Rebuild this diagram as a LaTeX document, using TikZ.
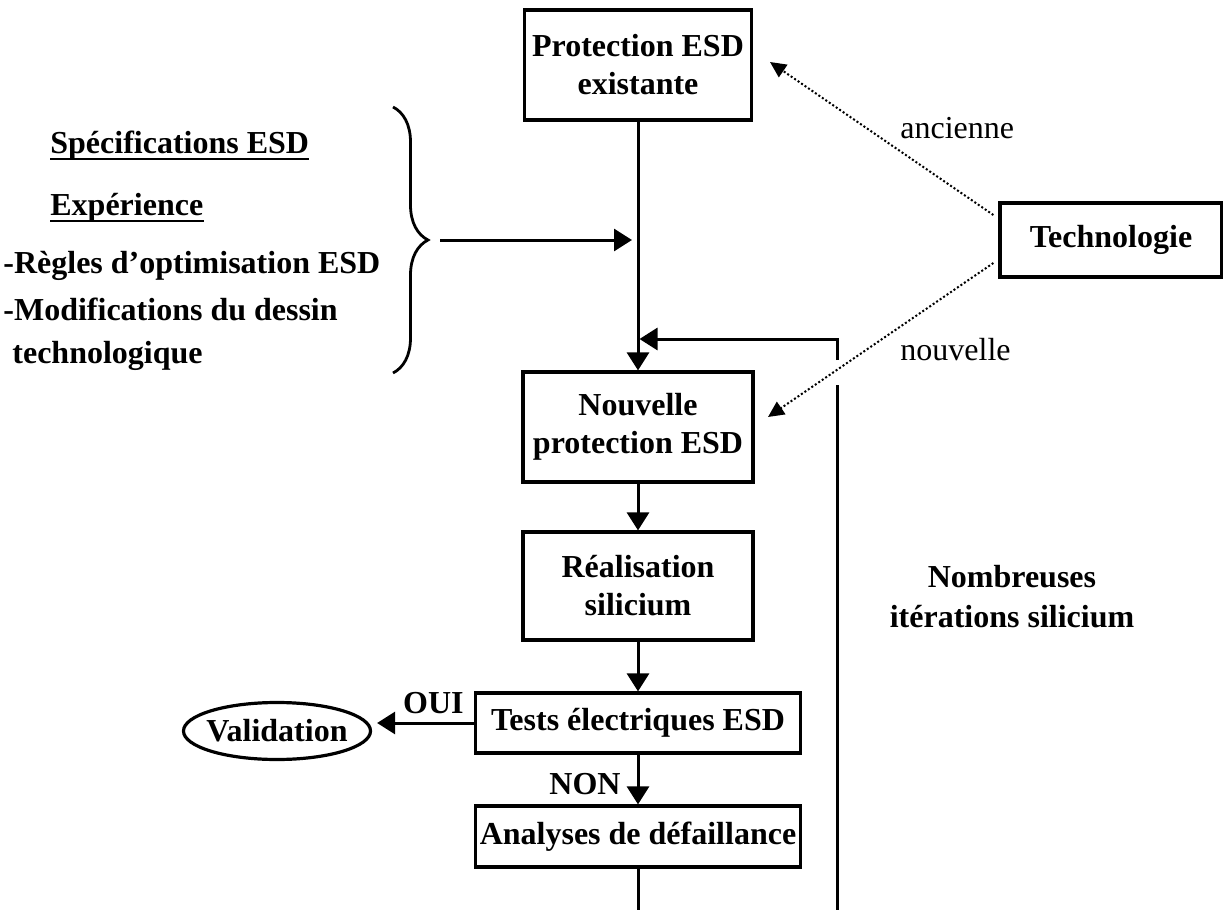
\documentclass[tikz,border=0pt]{standalone}
\usepackage{fontspec}
\setmainfont{Liberation Serif}
\usetikzlibrary{arrows.meta}
\usetikzlibrary{decorations.pathreplacing}
\usetikzlibrary{shapes}

\tikzset{
  box/.style={draw, line width=1.6pt, inner sep=0pt, align=center, font=\bfseries\fontsize{16}{19}\selectfont},
  flow/.style={line width=1.5pt, -{Triangle[length=9pt,width=11pt]}},
  plain/.style={line width=1.5pt},
  dotflow/.style={line width=1pt, dash pattern=on 1pt off 1.1pt, -{Triangle[length=8pt,width=7.5pt]}},
  txt/.style={font=\bfseries\fontsize{16}{20}\selectfont, inner sep=0pt},
  plaintext/.style={font=\fontsize{16}{19}\selectfont, inner sep=0pt}
}

\begin{document}
\begin{tikzpicture}[x=0.5pt,y=-0.5pt]
\useasboundingbox (0,0) rectangle (1223,910);
% the boxes of the flow
\node[box, minimum width=113.5pt, minimum height=55pt] (exist) at (638,65) {Protection ESD\\existante};
\node[box, minimum width=115pt, minimum height=55pt] (nouv) at (638,427) {Nouvelle\\protection ESD};
\node[box, minimum width=115pt, minimum height=54pt] (real) at (638,586) {Réalisation\\silicium};
\node[box, minimum width=162.5pt, minimum height=30pt] (tests) at (638,723) {Tests électriques ESD};
\node[box, minimum width=162.5pt, minimum height=30.5pt] (anal) at (638,836.5) {Analyses de défaillance};
\node[box, ellipse, inner xsep=-4pt, minimum width=93.5pt, minimum height=28.5pt] (valid) at (277,731) {Validation};
\node[box, minimum width=111pt, minimum height=37pt] (techno) at (1111,240) {Technologie};
% the inputs on the left
\node[txt, anchor=base west] (spec) at (50,153) {Spécifications ESD};
\node[txt, anchor=base west] (expe) at (50,215) {Expérience};
\node[txt, anchor=base west] (regles) at (3,273) {-Règles d’optimisation ESD};
\node[txt, anchor=base west] (modif) at (3,320) {-Modifications du dessin};
\node[txt, anchor=base west] (techlg) at (12,363) {technologique};
\draw[line width=1pt] ([yshift=-3pt]spec.base west) -- ([yshift=-3pt]spec.base east);
\draw[line width=1pt] ([yshift=-3pt]expe.base west) -- ([yshift=-3pt]expe.base east);
%     brace and its arrow
\coordinate (btop) at (393,107);
\coordinate (bbot) at (393,373);
\coordinate (btip) at (440,240);
\draw[line width=1.4pt, decorate, decoration={brace, amplitude=17.5pt}] (btop) -- (bbot);
\draw[flow, shorten >=3pt] (btip) -- (btip -| exist.south);
% the main chain
\draw[flow] (exist) -- (nouv);
\draw[flow] (nouv) -- (real);
\draw[flow] (real) -- (tests);
\draw[flow] (tests) -- (anal);
\node[txt, anchor=base east] (non) at (621,794) {NON};
\draw[flow, shorten >=2.5pt] (tests.west) -- (tests.west -| valid.east);
\node[txt, anchor=base east] (oui) at (464,713) {OUI};
\coordinate (abot) at (638,910);
\draw[plain] (anal) -- (abot);
% the loop back
\coordinate (lbot) at (837,910);
\coordinate (gapb) at (837,385);
\coordinate (gapt) at (837,360);
\coordinate (ltop) at (837,339);
\draw[plain] (lbot) -- (gapb);
\draw[flow, shorten >=0.75pt] (gapt) -- (ltop) -- (ltop -| exist.south);
\node[txt, align=center] (iter) at (1012,597) {Nombreuses\\itérations silicium};
% technology
\coordinate (aold) at (770,62);
\coordinate (anew) at (768,417);
\draw[dotflow] ([yshift=12.5pt,xshift=-2.5pt]techno.west) -- (aold);
\draw[dotflow] ([yshift=-11.5pt,xshift=-2.5pt]techno.west) -- (anew);
\node[plaintext, anchor=base west] (anc) at (900,138) {ancienne};
\node[plaintext, anchor=base west] (nvl) at (900,360) {nouvelle};
\end{tikzpicture}
\end{document}
